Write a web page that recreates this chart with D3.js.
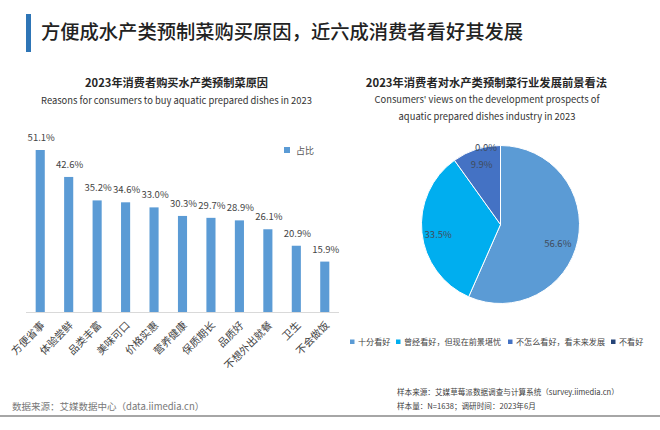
<!DOCTYPE html>
<html><head><meta charset="utf-8">
<script src="https://cdn.jsdelivr.net/npm/d3@7/dist/d3.min.js"></script>
<style>html,body{margin:0;padding:0;background:#fff}svg{display:block}text{font-family:"Noto Sans CJK SC","Noto Sans",sans-serif}</style>
</head><body><svg id="c" width="660" height="430"></svg>
<script>
const reasons=["方便省事","体验尝鲜","品类丰富","美味可口","价格实惠","营养健康","保质期长","品质好","不想外出就餐","卫生","不会做饭"];
const reasonValues=[51.1,42.6,35.2,34.6,33.0,30.3,29.7,28.9,26.1,20.9,15.9];
const views=["十分看好","曾经看好，但现在前景堪忧","不怎么看好，看未来发展","不看好"];
const viewValues=[56.6,33.5,9.9,0.0];
const viewColors=["#5b9bd5","#00aeef","#4472c4","#264478"];
const svg=d3.select("#c");
const txt=(x,y,s,size,fill,anchor="middle",weight=400)=>svg.append("text").attr("x",x).attr("y",y).attr("text-anchor",anchor).attr("font-size",size).attr("font-weight",weight).attr("fill",fill).text(s);

svg.append("rect").attr("x",26).attr("y",14).attr("width",5).attr("height",38).attr("fill","#2e75b6");
txt(41,39,"方便成水产类预制菜购买原因，近六成消费者看好其发展",19.3,"#222","start",500);

txt(176.5,87,"2023年消费者购买水产类预制菜原因",11.2,"#262626","middle",700);
txt(176.5,104,"Reasons for consumers to buy aquatic prepared dishes in 2023",9.4,"#333");
txt(486.5,87,"2023年消费者对水产类预制菜行业发展前景看法",11.3,"#262626","middle",700);
txt(487,103,"Consumers' views on the development prospects of",9.4,"#333");
txt(487,120,"aquatic prepared dishes industry in 2023",9.4,"#333");

const x=d3.scaleBand().domain(reasons).range([26,339]).paddingInner(0.68).paddingOuter(0.34);
const y=d3.scaleLinear().domain([0,51.1]).range([312,150]);
svg.append("line").attr("x1",26).attr("x2",339).attr("y1",312.5).attr("y2",312.5).attr("stroke","#d9d9d9");
svg.selectAll(".bar").data(reasons).join("rect").attr("class","bar")
 .attr("x",d=>x(d)).attr("width",x.bandwidth())
 .attr("y",(d,i)=>y(reasonValues[i])).attr("height",(d,i)=>y(0)-y(reasonValues[i])).attr("fill","#5b9bd5");
svg.selectAll(".val").data(reasons).join("text").attr("class","val")
 .attr("x",d=>x(d)+x.bandwidth()/2+1).attr("y",(d,i)=>y(reasonValues[i])-9)
 .attr("text-anchor","middle").attr("font-size",9.5).attr("fill","#444")
 .text((d,i)=>reasonValues[i].toFixed(1)+"%");
svg.selectAll(".cat").data(reasons).join("text").attr("class","cat")
 .attr("text-anchor","end").attr("font-size",10.4).attr("fill","#444")
 .attr("transform",d=>`translate(${x(d)+x.bandwidth()/2+5},326) rotate(-45)`)
 .text(d=>d);
svg.append("rect").attr("x",284).attr("y",147).attr("width",6).attr("height",6).attr("fill","#5b9bd5");
txt(296,154,"占比",9,"#555","start");

const cx=500.5,cy=224.5,r=79;
const pie=d3.pie().sort(null)(viewValues);
const arc=d3.arc().innerRadius(0).outerRadius(r);
svg.selectAll(".slice").data(pie).join("path").attr("class","slice")
 .attr("transform",`translate(${cx},${cy})`).attr("d",arc)
 .attr("fill",(d,i)=>viewColors[i]).attr("stroke","#fff").attr("stroke-width",1);
const labelArc=d3.arc().innerRadius(r*0.78).outerRadius(r*0.78);
const lab=d=>{const [a,b]=labelArc.centroid(d);return [cx+a,cy+b]};
const ldx=[-3,-1,0,-14.5],ldy=[10,6.7,2.6,-11.4];
svg.selectAll(".pl").data(pie).join("text").attr("class","pl")
 .attr("x",(d,i)=>lab(d)[0]+ldx[i])
 .attr("y",(d,i)=>lab(d)[1]+ldy[i])
 .attr("text-anchor","middle").attr("font-size",9.5).attr("fill","#404c5c")
 .text((d,i)=>viewValues[i].toFixed(1)+"%");

const lx=[350,396,508,611];
svg.selectAll(".ls").data(views).join("rect").attr("class","ls")
 .attr("x",(d,i)=>lx[i]).attr("y",339.5).attr("width",4.5).attr("height",4.5).attr("fill",(d,i)=>viewColors[i]);
svg.selectAll(".lt").data(views).join("text").attr("class","lt")
 .attr("x",(d,i)=>lx[i]+8).attr("y",345).attr("font-size",8.1).attr("fill","#444").text(d=>d);

txt(397,395,"样本来源：艾媒草莓派数据调查与计算系统（survey.iimedia.cn）",7.6,"#404040","start");
txt(397,409,"样本量：N=1638；调研时间：2023年6月",7.6,"#404040","start");
txt(12,410,"数据来源：艾媒数据中心（data.iimedia.cn）",9.5,"#777","start");
svg.append("rect").attr("x",0).attr("y",415).attr("width",660).attr("height",2).attr("fill","#a6a6a6");
</script></body></html>
